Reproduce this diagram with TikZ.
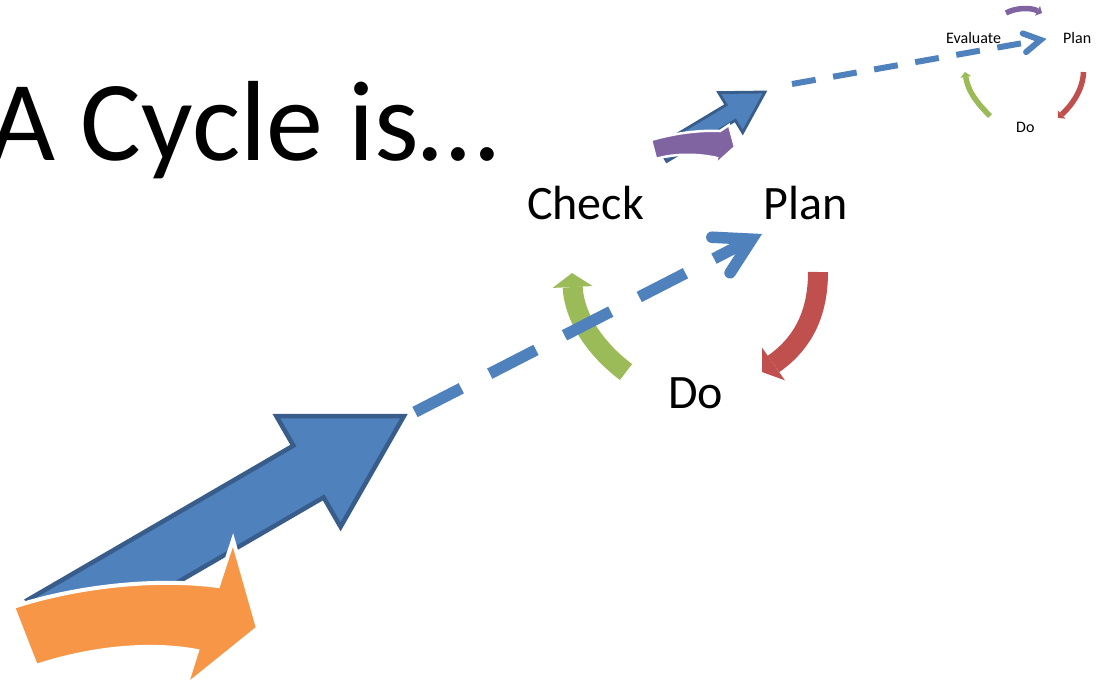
\documentclass[tikz,border=0pt]{standalone}
\usepackage{fontspec}
\setmainfont{Carlito}
\usetikzlibrary{arrows.meta,calc}
\definecolor{cblue}{HTML}{4F81BD}
\definecolor{cblueline}{HTML}{385D8A}
\definecolor{corange}{HTML}{F79646}
\definecolor{cpurple}{HTML}{8064A2}
\definecolor{cgreen}{HTML}{9BBB59}
\definecolor{cred}{HTML}{C0504D}
\begin{document}
\begin{tikzpicture}[x=1pt,y=-1pt,
  blockarrow/.style={fill=cblue, draw=cblueline, line join=miter},
  bentarrow/.style={draw=white, line join=miter},
  bigcurve/.style={line width=20pt, -{Triangle[width=40pt,length=14pt,line width=0pt]}},
  smallcurve/.style={line width=5.5pt, -{Triangle[width=11pt,length=5pt,line width=0pt]}},
  dashshaft/.style={draw=cblue, line cap=butt},
  openhead/.style={draw=cblue, line cap=round, line join=miter, miter limit=20},
  bigtext/.style={anchor=base west, inner sep=0pt, font=\fontsize{48}{58}\selectfont},
  smalltext/.style={anchor=base west, inner sep=0pt, font=\fontsize{16}{19}\selectfont}]
\useasboundingbox (0,0) rectangle (1105,691);

% title
\node[anchor=base west, inner sep=0pt, font=\fontsize{114}{130}\selectfont] (title) at (-11,160) {A Cycle is…};

% big blue arrow
\coordinate (bT) at (404,416);
\coordinate (bA1) at (276.4,416.2);
\coordinate (bN1) at (293.4,445.6);
\coordinate (bU) at (27.3,600.2);
\coordinate (bL) at (57.5,652.0);
\coordinate (bN2) at (323.6,497.4);
\coordinate (bA2) at (340.6,526.8);
\draw[blockarrow, line width=4.5pt] (bT) -- (bA1) -- (bN1) -- (bU) -- (bL) -- (bN2) -- (bA2) -- cycle;

% orange bent arrow
\draw[bentarrow, fill=corange, line width=4pt] (13,607) .. controls (80,585) and (160,578) .. (218,586)
  -- (233,540) -- (258,628) -- (186,686) -- (197,651)
  .. controls (150,642) and (90,648) .. (36,666) -- cycle;

% small blue arrow
\coordinate (sT) at (765,92);
\coordinate (sA1) at (718.7,92.6);
\coordinate (sN1) at (726.1,104.9);
\coordinate (sU) at (657.6,146);
\coordinate (sL) at (666.8,161.4);
\coordinate (sN2) at (735.3,120.3);
\coordinate (sA2) at (742.7,132.6);
\draw[blockarrow, line width=2.8pt] (sT) -- (sA1) -- (sN1) -- (sU) -- (sL) -- (sN2) -- (sA2) -- cycle;

% purple bent arrow
\draw[bentarrow, fill=cpurple, line width=2.5pt] (651,140) .. controls (675,133) and (700,130) .. (720,131)
  -- (729,125) -- (735,147) -- (715,165) -- (717,158)
  .. controls (700,154) and (675,153) .. (656,159) -- cycle;

% labels
\node[bigtext] (check) at (527,219) {Check};
\node[bigtext] (plan) at (763,219) {Plan};
\node[bigtext] (do) at (668,408) {Do};
\node[smalltext] (eval2) at (946,43) {Evaluate};
\node[smalltext] (plan2) at (1063,43) {Plan};
\node[smalltext] (do2) at (1016,132.5) {Do};

% big cycle arcs
\coordinate (gS) at (626,372);
\coordinate (gE) at (572,273);
\draw[bigcurve, cgreen] (gS) .. controls (594,348) and (574,316) .. (gE);
\coordinate (rS) at (818,272);
\coordinate (rE) at (762,372);
\draw[bigcurve, cred] (rS) .. controls (818,315) and (802,344) .. (rE);

% main dashed arrow
\coordinate (dS) at (415,412);
\coordinate (dT) at (751.8,239.2);
\draw[dashshaft, line width=11.5pt, dash pattern=on 52pt off 32pt] (dS) -- (dT);
\draw[openhead, line width=11.5pt] ($(dT)!40pt!-30:(dS)$) -- (dT) -- ($(dT)!40pt!30:(dS)$);

% small cycle arcs
\draw[smallcurve, cpurple] (1006,13) .. controls (1015,8) and (1030,7) .. (1042,13);
\draw[smallcurve, cgreen] (990,116) .. controls (978,104) and (968,92) .. (965,72);
\draw[smallcurve, cred] (1083.5,72) .. controls (1083,88) and (1074,103) .. (1058,118);

% small dashed arrow
\coordinate (eS) at (792,84);
\coordinate (eT) at (1040.6,39.9);
\draw[dashshaft, line width=6pt, dash pattern=on 24pt off 17.7pt] (eS) -- (eT);
\draw[openhead, line width=6pt] ($(eT)!19pt!-30:(eS)$) -- (eT) -- ($(eT)!19pt!30:(eS)$);
\end{tikzpicture}
\end{document}
